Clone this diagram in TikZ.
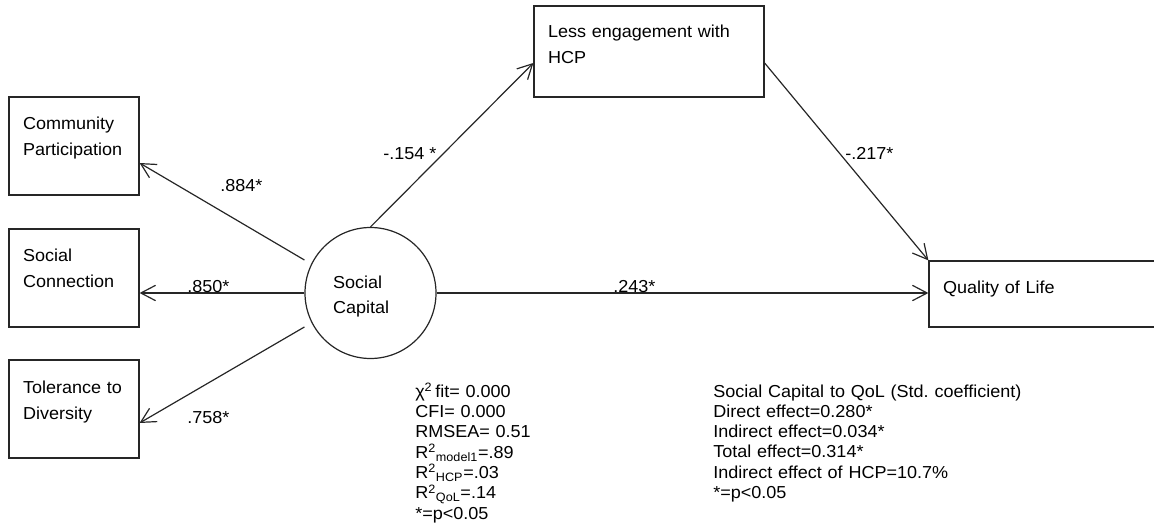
\documentclass[tikz,border=0pt]{standalone}
\usepackage{fontspec}
\setmainfont{Liberation Sans}[FakeStretch=1.04]
\usetikzlibrary{arrows.meta}
\frenchspacing
\begin{document}
\begin{tikzpicture}[x=0.75pt,y=-0.75pt,
  font=\fontsize{13pt}{19.5pt}\selectfont,
  ln/.style={draw=black!85, line width=0.9pt},
  arr/.style={ln, -{Straight Barb[length=11pt,width=11.5pt,line width=0.9pt]}},
  boxnode/.style={draw=black!85, line width=0.9pt, rectangle, align=left,
    inner xsep=10.5pt, inner ysep=0pt, text height=24.75pt},
  lab/.style={anchor=base west, inner sep=0pt},
  stats/.style={anchor=base west, inner sep=0pt, align=left,
    font=\fontsize{13pt}{15.3pt}\selectfont}]
\useasboundingbox (0,0) rectangle (1154,531);

% boxes
\node[boxnode, text width=76.5pt, text depth=48.75pt] (cp) at (74,146) {Community\\Participation};
\node[boxnode, text width=76.5pt, text depth=48.75pt] (scn) at (74,278) {Social\\Connection};
\node[boxnode, text width=76.5pt, text depth=48.75pt] (td) at (74,409) {Tolerance to\\Diversity};
\node[boxnode, text width=151.5pt, text height=24pt, text depth=44.25pt] (hcp) at (649,51.5) {Less engagement with\\HCP};
\node[boxnode, text width=159.75pt, text height=24pt, text depth=25.5pt] (qol) at (1049.5,294) {Quality of Life};

% latent
\node[circle, draw=black!85, line width=0.9pt, minimum size=98.25pt, inner sep=0pt,
  align=left, text width=56.25pt, text height=9.75pt, text depth=17.25pt] (sc) at (370.5,293) {Social\\Capital};

% connectors
\draw[arr] ([yshift=24.75pt]sc.west) -- ([yshift=-12.75pt]cp.east);
\draw[arr] (sc.west) -- (scn.east |- sc.west);
\draw[arr] ([yshift=-25.5pt]sc.west) -- ([yshift=-10.5pt]td.east);
\draw[arr] (sc.north) -- ([yshift=-8.6pt]hcp.west);
\draw[arr] ([yshift=-8.6pt]hcp.east) -- (qol.north west);
\draw[arr] (sc.east) -- (qol.west |- sc.east);

% path labels
\node[lab] (l1) at (220,192) {.884*};
\node[lab] (l2) at (187,292) {.850*};
\node[lab] (l3) at (187,423) {.758*};
\node[lab] (l4) at (383,160) {-.154 *};
\node[lab] (l5) at (845,160) {-.217*};
\node[lab] (l6) at (613,292) {.243*};

% statistics
\node[stats, text width=150pt] (fit) at (415,397) {χ\textsuperscript{2}\,fit= 0.000\\
CFI= 0.000\\
RMSEA= 0.51\\
R\textsuperscript{2}\textsubscript{model1}=.89\\
R\textsuperscript{2}\textsubscript{HCP}=.03\\
R\textsuperscript{2}\textsubscript{QoL}=.14\\
{*}=p<0.05};

\node[stats, text width=300pt, font=\fontsize{13pt}{15.2pt}\selectfont] (eff) at (713,397) {Social Capital to QoL (Std. coefficient)\\
Direct effect=0.280*\\
Indirect effect=0.034*\\
Total effect=0.314*\\
Indirect effect of HCP=10.7\%\\
{*}=p<0.05};
\end{tikzpicture}
\end{document}
